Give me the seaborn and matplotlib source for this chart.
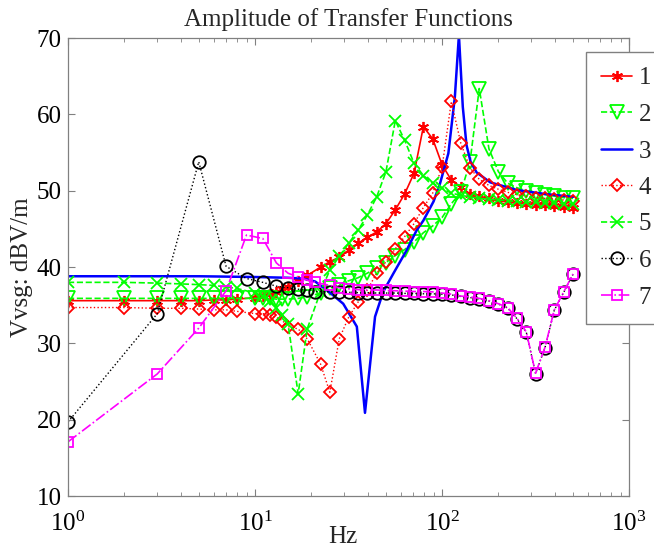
import matplotlib
matplotlib.use('Agg')
import matplotlib.pyplot as plt
import seaborn as sns

# frequency grids (Hz)
f_low_int = [1, 2, 3, 4, 5, 6, 7, 8, 10, 11, 12, 13, 14, 15, 17, 19]
f_low_odd = [1, 3, 5, 7, 9, 11, 13, 15, 17, 19, 21]
f_log = [22.4, 25.1, 28.2, 31.6, 35.5, 39.8, 44.7, 50.1, 56.2, 63.1, 70.8, 79.4, 89.1, 100,
         112, 126, 141, 158, 178, 200, 224, 251, 282, 316, 355, 398, 447, 501]
f_blue = [1, 5, 10, 15, 18, 21, 25, 29.6, 35, 38.7, 43.8, 48.5, 55, 64.6, 73, 79.4, 90, 97.6,
          108, 117, 123, 129, 135, 142, 153, 181, 251, 350, 501]

# amplitudes (dBV/m)
amp1 = [35.6, 35.6, 35.6, 35.6, 35.6, 35.7, 35.7, 35.8, 36.0, 36.2, 36.5, 36.8, 37.1, 37.4, 38.2, 38.9,
        40.0, 40.7, 41.3, 42.2, 43.1, 43.9, 44.6, 45.7, 47.5, 49.6, 52.3, 58.4, 56.8, 53.4,
        51.4, 50.5, 49.6, 49.3, 49.0, 48.7, 48.5, 48.4, 48.3, 48.2, 48.1, 48.0, 47.9, 47.8]
amp2 = [35.9, 35.9, 35.9, 35.9, 35.9, 35.9, 35.9, 35.9, 35.9, 35.9, 35.9, 35.8, 35.8, 35.8, 35.9, 36.1,
        36.6, 37.2, 37.7, 38.2, 38.6, 39.2, 39.9, 40.6, 41.5, 42.3, 43.3, 44.5, 45.4, 46.5,
        48.3, 49.8, 53.8, 63.4, 55.5, 52.5, 51.0, 50.4, 50.0, 49.7, 49.5, 49.3, 49.1, 49.0]
amp3 = [38.8, 38.8, 38.7, 38.6, 38.5, 38.1, 36.7, 35.2, 32.2, 20.9, 33.5, 36.8, 39.2, 42.2, 44.8,
        46.1, 48.6, 51.0, 54.9, 62.3, 70.4, 61.0, 56.0, 53.8, 52.4, 51.1, 50.1, 49.6, 49.2]
amp4 = [34.7, 34.7, 34.6, 34.6, 34.5, 34.4, 34.4, 34.2, 33.9, 33.9, 33.7, 33.4, 33.0, 32.2, 31.9, 30.6,
        27.3, 23.6, 30.6, 33.4, 35.4, 37.0, 39.2, 40.7, 42.4, 44.0, 45.7, 47.8, 49.7, 53.1,
        61.7, 56.2, 53.0, 51.5, 50.7, 50.2, 49.8, 49.5, 49.3, 49.1, 49.0, 48.9, 48.8, 48.7]
amp5 = [38.0, 38.0, 37.9, 37.8, 37.7, 37.6, 37.4, 37.2, 36.6, 36.2, 35.6, 34.7, 33.7, 32.6, 23.4, 31.9,
        36.8, 39.6, 41.4, 43.1, 44.8, 46.8, 49.2, 52.5, 59.2, 56.6, 53.6, 52.0, 51.0, 50.3,
        49.7, 49.4, 49.2, 49.0, 48.9, 48.8, 48.7, 48.6, 48.5, 48.5, 48.4, 48.4, 48.3, 48.3]
amp6 = [19.7, 33.9, 53.8, 40.1, 38.5, 38.0, 37.5, 37.3, 37.1, 36.95, 36.8,
        36.75, 36.7, 36.7, 36.65, 36.65, 36.6, 36.6, 36.6, 36.55, 36.55, 36.5, 36.5, 36.45,
        36.35, 36.15, 36.0, 35.85, 35.55, 35.15, 34.65, 33.25, 31.45, 26.05, 29.45, 34.35, 36.7, 39.05]
amp7 = [17.1, 26.0, 32.0, 36.9, 44.2, 43.75, 40.55, 39.2, 38.7, 38.3, 38.0,
        37.6, 37.3, 37.15, 37.05, 37.0, 37.0, 36.95, 36.9, 36.85, 36.8, 36.8, 36.75, 36.6,
        36.45, 36.2, 36.1, 35.9, 35.6, 35.2, 34.7, 33.3, 31.5, 26.1, 29.5, 34.4, 36.75, 39.1]

labels = ['1', '2', '3', '4', '5', '6', '7']

sns.set_style('ticks')
plt.rcParams['font.family'] = ['Liberation Serif', 'DejaVu Serif']
plt.rcParams['mathtext.fontset'] = 'custom'
plt.rcParams['mathtext.rm'] = 'Liberation Serif'
plt.rcParams['mathtext.it'] = 'Liberation Serif:italic'

fig = plt.figure(figsize=(6.54, 5.49), dpi=100)
ax = fig.add_axes([0.104, 0.0965, 0.858, 0.834])
ax.set_xscale('log')

series = [
    (f_low_int + f_log, amp1, 'red', '-', (6, 2, 0), 8, 1.2),
    (f_low_int + f_log, amp2, 'lime', '--', 'v', 10, 1.2),
    (f_blue, amp3, 'blue', '-', None, 0, 1.8),
    (f_low_int + f_log, amp4, 'red', ':', 'D', 6, 1.0),
    (f_low_int + f_log, amp5, 'lime', '--', 'x', 8, 1.2),
    (f_low_odd + f_log[1:], amp6, 'black', ':', 'o', 9, 1.0),
    (f_low_odd + f_log[1:], amp7, 'magenta', '-.', 's', 7.5, 1.2),
]

for (f, a, col, ls, mk, ms, lw), lab in zip(series, labels):
    sns.lineplot(x=f, y=a, ax=ax, label=lab, color=col, linestyle=ls, marker=mk,
                 markersize=ms, markerfacecolor='none', markeredgecolor=col,
                 markeredgewidth=1.3, linewidth=lw, estimator=None, sort=False,
                 legend=False)

ax.set_xlim(1, 1000)
ax.set_ylim(10, 70)
ax.set_yticks([10, 20, 30, 40, 50, 60, 70])
ax.tick_params(which='both', direction='in', top=True, right=True, color='0.5',
               labelcolor='black', labelsize=18)
ax.tick_params(which='major', length=5)
ax.tick_params(which='minor', length=3)
ax.tick_params(axis='x', pad=11)
ax.tick_params(axis='y', pad=4.5)
for sp in ax.spines.values():
    sp.set_color('0.5')
    sp.set_linewidth(0.9)

ax.set_title('Amplitude of Transfer Functions', fontsize=18, pad=9)
ax.set_xlabel('Hz', fontsize=18)
ax.xaxis.set_label_coords(0.49, -0.066)
ax.set_ylabel('Vvsg: dBV/m', fontsize=18)
ax.yaxis.set_label_coords(-0.062, 0.5)

leg = ax.legend(loc='upper left', bbox_to_anchor=(586 / 654, 1 - 52 / 549),
                bbox_transform=fig.transFigure, fontsize=18, frameon=True, fancybox=False,
                edgecolor='0.5', framealpha=1, handlelength=1.25, handletextpad=0.25,
                labelspacing=0.56, borderpad=0.6, borderaxespad=0)
leg.get_frame().set_linewidth(1.0)

fig.savefig('out.png', dpi=100)
